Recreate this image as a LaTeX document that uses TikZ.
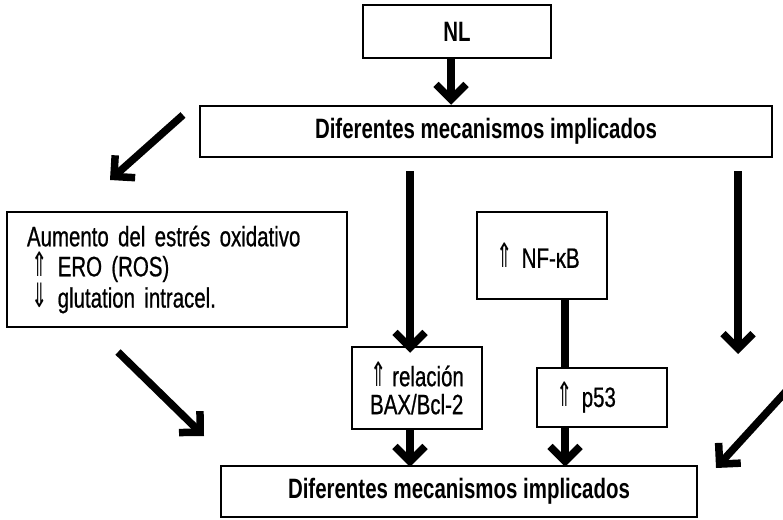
\documentclass[tikz,border=0pt]{standalone}
\usepackage{fontspec}
\usepackage{graphicx}
\setmainfont{Liberation Sans}[FakeStretch=0.73, UprightFeatures={FakeBold=0.7}]
\newfontfamily\symf{DejaVu Sans}[FakeStretch=0.7]
\newcommand\myup{\scalebox{1}[1.2]{\symf ⇑}}
\newcommand\mydown{\scalebox{1}[1.2]{\symf ⇓}}
\usetikzlibrary{arrows.meta}
\begin{document}
\begin{tikzpicture}[x=1pt,y=-1pt,
  box/.style={draw, line width=2.5pt, inner sep=0pt, font=\fontsize{28}{28}\selectfont},
  bbox/.style={box, font=\bfseries\fontsize{28}{28}\selectfont},
  lbox/.style={box, align=left, text width=92pt, inner xsep=19pt},
  arr/.style={line width=7.5pt, -{Straight Barb[length=15pt,width=30pt,sharp]}},
  bar/.style={line width=7.5pt}]
\useasboundingbox[fill=white] (0,0) rectangle (783,519);
% boxes
\node[bbox, minimum width=188pt, minimum height=53pt] (NL) at (457,31.5) {NL};
\node[bbox, minimum width=572pt, minimum height=51pt] (top) at (486,131.5) {Diferentes mecanismos implicados};
\node[box, align=left, text width=300pt, inner xsep=20pt, minimum height=115pt,
      font=\fontsize{28}{30}\selectfont] (ox) at (177,269.5)
      {Aumento del estrés oxidativo\\\hspace*{5pt}\myup{} ERO (ROS)\\\hspace*{5pt}\mydown{} glutation intracel.};
\node[box, align=left, minimum width=130pt, minimum height=82pt] (rel) at (417,388) {\myup{} relación\\BAX/Bcl-2};
\node[lbox, minimum height=87pt] (nf) at (542,255.5) {\myup{} NF-κB};
\node[lbox, minimum height=59pt] (p53) at (602,397.5) {\myup{} p53};
\node[bbox, minimum width=476pt, minimum height=51pt] (bot) at (459,491.5) {Diferentes mecanismos implicados};
% free ends
\coordinate (nlb) at ([xshift=-6pt]NL.south);
\coordinate (a1s) at (183,115);
\coordinate (a1e) at (110,180);
\coordinate (a2s) at (118,352);
\coordinate (a2e) at (204,436);
\coordinate (a3s) at (790,387);
\coordinate (a3e) at (716,468);
\coordinate (v1s) at (410,171);
\coordinate (v3s) at (738,171);
\coordinate (v3e) at (738,354);
\coordinate (px) at (565,300);
% connectors
\draw[arr] (nlb) -- (nlb |- top.north);
\draw[arr] (a1s) -- (a1e);
\draw[arr] (a2s) -- (a2e);
\draw[arr] (a3s) -- (a3e);
\draw[arr, shorten >=-7pt] (v1s) -- (v1s |- rel.north);
\draw[arr, shorten >=-2pt] (v1s |- rel.south) -- (v1s |- bot.north);
\draw[bar] (px |- nf.south) -- (px |- p53.north);
\draw[arr, shorten >=-2pt] (px |- p53.south) -- (px |- bot.north);
\draw[arr] (v3s) -- (v3e);
\end{tikzpicture}
\end{document}
